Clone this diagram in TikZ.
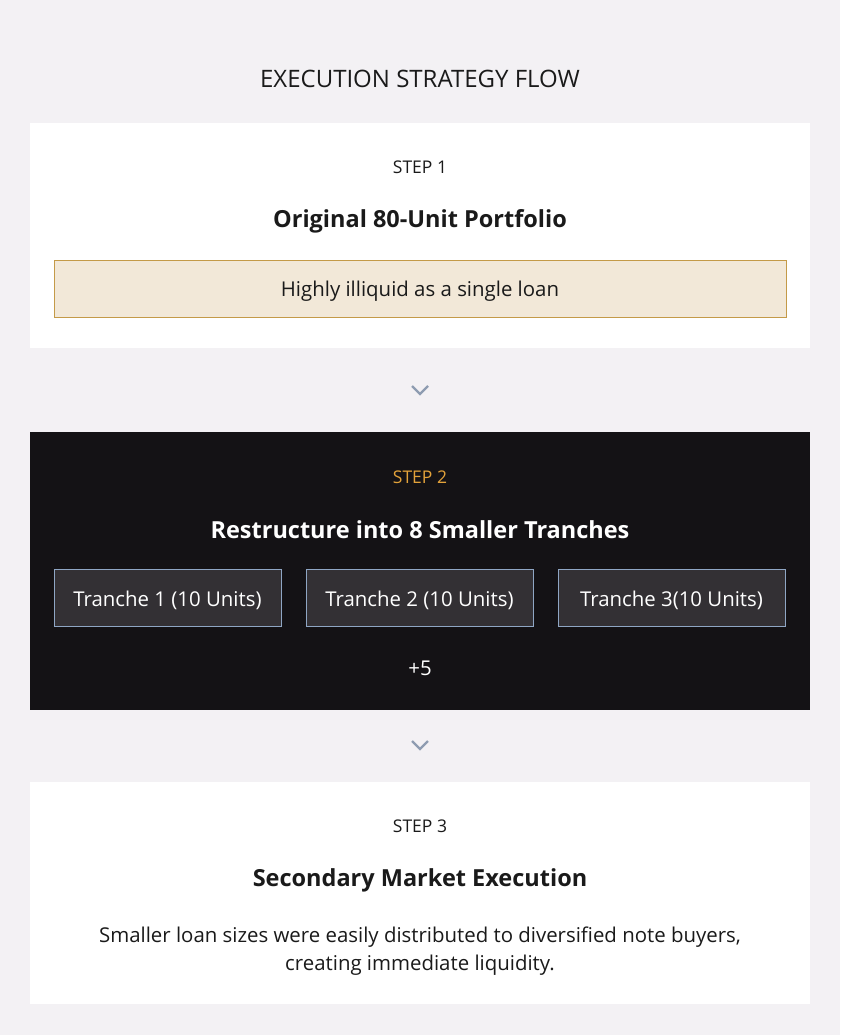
\documentclass[tikz,border=0pt]{standalone}
\usepackage{fontspec}
\usetikzlibrary{calc}
\setmainfont{Open Sans}
\definecolor{pagebg}{HTML}{F3F1F4}
\definecolor{darkbg}{HTML}{141215}
\definecolor{tranchebg}{HTML}{333034}
\definecolor{tranchebd}{HTML}{8FA6C4}
\definecolor{notebg}{HTML}{F2E8D8}
\definecolor{notebd}{HTML}{C49A48}
\definecolor{stepgold}{HTML}{E3A23A}
\definecolor{chevron}{HTML}{8E9CB1}
\definecolor{ink}{HTML}{1A1A1A}
\tikzset{
  steplabel/.style={font=\fontsize{17.5}{20}\selectfont, text=ink},
  steptitle/.style={font=\fontsize{23.5}{28}\selectfont\bfseries, text=ink},
  tranche/.style={draw=tranchebd, line width=1pt, fill=tranchebg, text=white,
    minimum width=227pt, minimum height=57pt, inner sep=0pt,
    font=\fontsize{20.4}{24}\selectfont},
  chev/.style={draw=chevron, line width=2.2pt}
}
\begin{document}
\begin{tikzpicture}[x=1pt,y=-1pt]
    \fill[pagebg] (0,0) rectangle (840,1035);
    \useasboundingbox (0,0) rectangle (840,1035);
    \node (title) at (420,79) {\fontsize{24}{28}\selectfont\color{ink}EXECUTION STRATEGY FLOW};
    % step 1
    \fill[white] (30,123) rectangle (810,348);
    \node[steplabel] (s1) at (420,167) {STEP 1};
    \node[steptitle] (t1) at (420,221) {Original 80-Unit Portfolio};
    \node[draw=notebd, line width=1pt, fill=notebg, minimum width=732pt, minimum height=57pt,
      font=\fontsize{20.4}{24}\selectfont, text=ink] (note) at (420,289) {};
    \node[font=\fontsize{20.4}{24}\selectfont, text=ink] (notetext) at (420,291) {Highly illiquid as a single loan};
    \coordinate (c1) at (420,390);
    \draw[chev] ($(c1)+(-8,-4)$) -- ($(c1)+(0,4)$) -- ($(c1)+(8,-4)$);
    % step 2
    \fill[darkbg] (30,432) rectangle (810,710);
    \node[steplabel, text=stepgold] (s2) at (420,477) {STEP 2};
    \node[steptitle, text=white] (t2) at (420,530) {Restructure into 8 Smaller Tranches};
    \node[tranche] (tr1) at (167.5,598) {};
    \node[tranche] (tr2) at (419.5,598) {};
    \node[tranche] (tr3) at (671.5,598) {};
    \node[text=white, font=\fontsize{20.4}{24}\selectfont] (tr1text) at ($(tr1)+(0,2)$) {Tranche 1 (10 Units)};
    \node[text=white, font=\fontsize{20.4}{24}\selectfont] (tr2text) at ($(tr2)+(0,2)$) {Tranche 2 (10 Units)};
    \node[text=white, font=\fontsize{20.4}{24}\selectfont] (tr3text) at ($(tr3)+(0,2)$) {Tranche 3(10 Units)};
    \node[font=\fontsize{20.4}{24}\selectfont, text=white] (more) at (420,668) {+5};
    \coordinate (c2) at (420,745);
    \draw[chev] ($(c2)+(-8,-4)$) -- ($(c2)+(0,4)$) -- ($(c2)+(8,-4)$);
    % step 3
    \fill[white] (30,782) rectangle (810,1004);
    \node[steplabel] (s3) at (420,826) {STEP 3};
    \node[steptitle] (t3) at (420,880) {Secondary Market Execution};
    \node[align=center, font=\fontsize{20.4}{28}\selectfont, text=ink] (body) at (420,951)
      {Smaller loan sizes were easily distributed to diversified note buyers,\\creating immediate liquidity.};
\end{tikzpicture}
\end{document}
